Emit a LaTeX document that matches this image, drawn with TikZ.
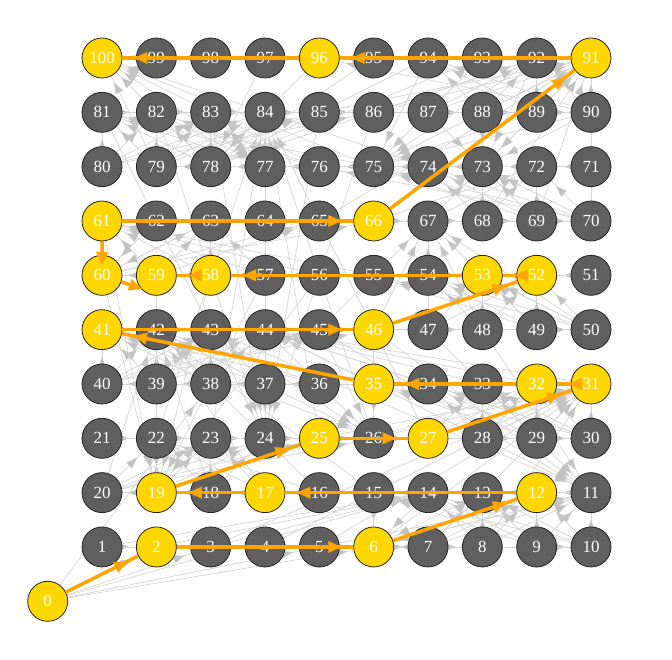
\documentclass[tikz,border=0pt]{standalone}
\usepackage{fontspec}
\setmainfont{Liberation Serif}
\usetikzlibrary{arrows.meta,decorations.markings}
\pgfdeclarelayer{bg}
\pgfsetlayers{bg,main}
\definecolor{ngray}{RGB}{95,95,95}
\definecolor{nyellow}{RGB}{255,215,0}
\definecolor{porange}{RGB}{255,165,0}
\definecolor{egray}{RGB}{212,212,212}
\definecolor{ahgray}{RGB}{195,195,195}
\definecolor{nborder}{RGB}{35,35,35}
\tikzset{
  sq/.style={circle, minimum size=40pt, inner sep=0pt, draw=nborder, line width=0.8pt,
    text=white, font=\fontsize{17}{17}\selectfont},
  gedge/.style={draw=egray, line width=0.7pt, postaction=decorate,
    decoration={markings, mark=at position -7pt with {\arrow[ahgray]{Triangle[length=11pt,width=8pt,line width=0.1pt]}}}},
  pedge/.style={draw=porange, line width=3.5pt, postaction=decorate,
    decoration={markings, mark=at position -12pt with {\arrow[porange]{Triangle[length=13pt,width=12pt,line width=0.1pt]}}}},
  pshort/.style={draw=porange, line width=3.5pt, -{Triangle[length=13pt,width=12pt,line width=0.1pt]}},
}
\foreach \y in {0,2,6,12,17,19,25,27,31,32,35,41,46,52,53,58,59,60,61,66,91,96,100}{\expandafter\xdef\csname isy\y\endcsname{1}}
\foreach \a/\b in {1/38,4/14,9/31,21/42,28/84,36/44,51/67,71/91,80/100,16/6,47/26,49/11,56/53,62/19,64/60,87/24,93/73,95/75,98/78}{\expandafter\xdef\csname lad\a\endcsname{\b}}
\newcommand\maptarget[1]{\edef\mt{#1}\ifcsname lad#1\endcsname\edef\mt{\csname lad#1\endcsname}\fi}
\begin{document}
\begin{tikzpicture}[x=1pt,y=-1pt]
\useasboundingbox (0,0) rectangle (672,660);
% nodes
\node[sq, fill=nyellow] (n0) at (47.7,601.3) {0};
\foreach \n in {1,...,100}{
  \pgfmathtruncatemacro\rr{div(\n-1,10)+1}
  \pgfmathtruncatemacro\pp{mod(\n-1,10)}
  \pgfmathtruncatemacro\cc{isodd(\rr) ? \pp+1 : 10-\pp}
  \ifcsname isy\n\endcsname\def\fc{nyellow}\else\def\fc{ngray}\fi
  \node[sq, fill=\fc] (n\n) at ({47.7+\cc*54.33},{601.3-\rr*54.33}) {\n};
}
% gray transitions
\begin{pgfonlayer}{bg}
\foreach \i in {0,...,99}{
  \foreach \k in {1,...,6}{
    \pgfmathtruncatemacro\tgt{\i+\k}
    \ifnum\tgt<101
      \maptarget{\tgt}
      \draw[gedge] (n\i) -- (n\mt);
    \fi
  }
}
\end{pgfonlayer}
% orange path
\foreach \a/\b in {0/2,2/6,6/12,12/17,17/19,19/25,25/27,27/31,31/32,32/35,35/41,41/46,46/52,52/53,53/58,58/59,61/66,66/91,91/96,96/100}{
  \draw[pedge] (n\a) -- (n\b);
}
\coordinate (c59) at (142,289);
\coordinate (c60) at (102,265);
\draw[pshort] (n60) -- (c59);
\draw[pshort] (n61) -- (c60);
\end{tikzpicture}
\end{document}
